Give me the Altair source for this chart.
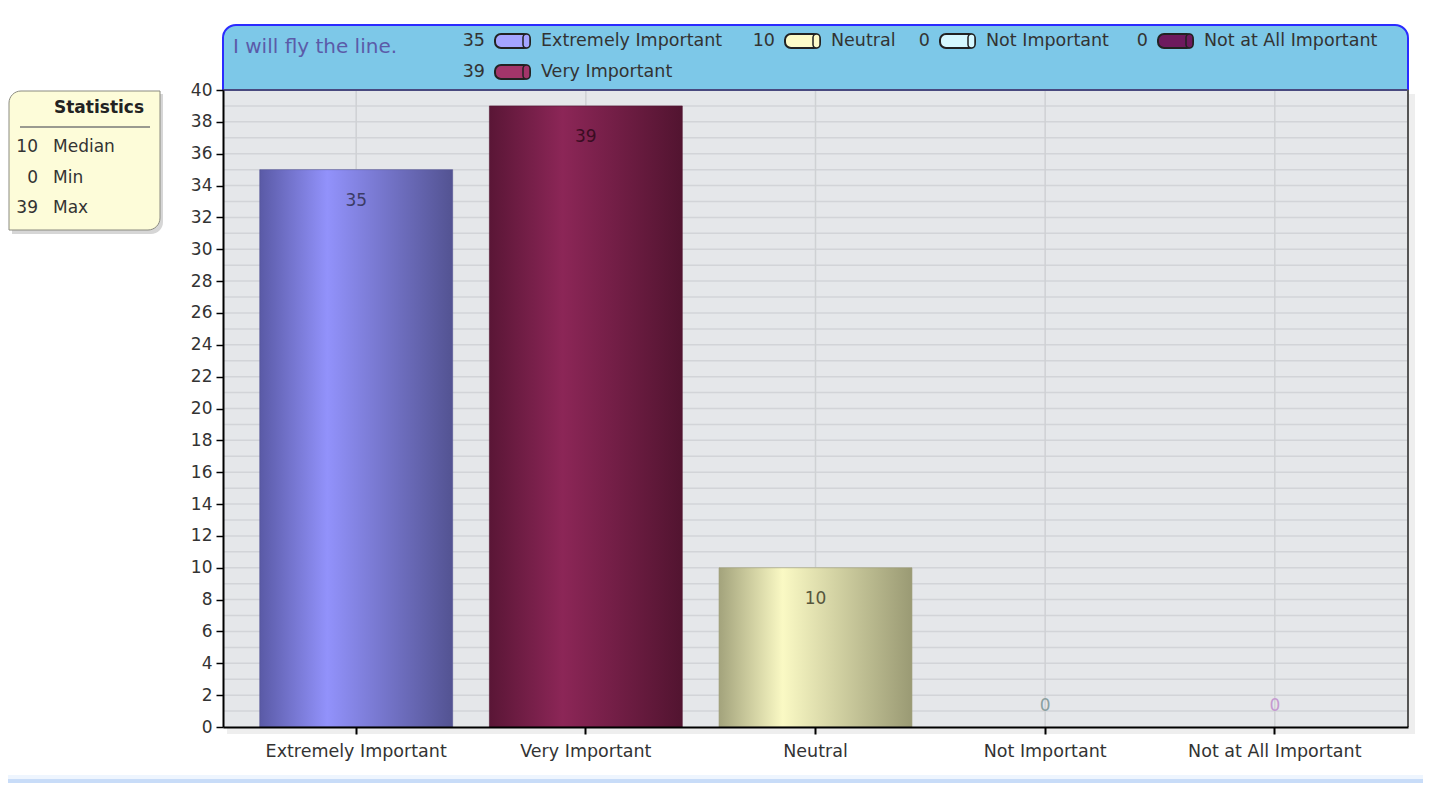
import altair as alt
import pandas as pd
import numpy as np

# ---------------- data ----------------
categories = ["Extremely Important", "Very Important", "Neutral", "Not Important", "Not at All Important"]
values = [35, 39, 10, 0, 0]
title_text = "I will fly the line."
stats_names = ["Median", "Min", "Max"]
stats_values = [int(np.median(values)), int(np.min(values)), int(np.max(values))]
y_ticks = list(range(0, 41, 2))
grid_minor = list(range(1, 41))

# ---------------- styles / layout ----------------
FONT = "DejaVu Sans"
W, H = 1185, 637
bar_stops = [
    [(0, "#5a5aa6"), (0.35, "#9292fb"), (1, "#535392")],
    [(0, "#5a1636"), (0.38, "#8c2657"), (1, "#521430")],
    [(0, "#a3a37c"), (0.33, "#faf9c4"), (1, "#9a9a74")],
    [(0, "#99aabb"), (0.35, "#ddffff"), (1, "#99aabb")],
    [(0, "#551122"), (0.35, "#881155"), (1, "#551122")],
]
label_colors = ["#3c3c66", "#3a0c22", "#56563c", "#8aa0a0", "#c59ad0"]
swatch_colors = ["#a4a4ff", "#a3356a", "#fdfbc8", "#d6f8ff", "#6e1a5e"]
# legend layout: right edge of value text, row y (pixels relative to plot)
leg_value_x = [262, 262, 552, 707, 925]
leg_row_y = [-49, -18, -49, -49, -49]
stats_row_y = [57, 88, 118]

df = pd.DataFrame({"cat": categories, "v": values, "lc": label_colors})
one = pd.DataFrame({"k": [0]})

x_scale = alt.Scale(domain=categories, paddingInner=0.16, paddingOuter=0.16)
y_scale = alt.Scale(domain=[0, 40], nice=False)
x_axis = alt.Axis(labelAngle=0, labelFont=FONT, labelFontSize=17.5, labelColor="#333",
                  labelLimit=0, tickColor="#000", tickSize=7, tickWidth=2, domainColor="#000",
                  domainWidth=2, labelPadding=8, grid=False, title=None, zindex=1)
y_axis = alt.Axis(values=y_ticks, labelFont=FONT, labelFontSize=17, labelColor="#333",
                  tickColor="#000", tickSize=7, tickWidth=1.5, domainColor="#000",
                  domainWidth=2, labelPadding=4, grid=False, title=None, zindex=1)

X = alt.X("cat:N", scale=x_scale, axis=x_axis, sort=categories, title=None)

layers = []

# background page strip at bottom
layers.append(alt.Chart(one).mark_rect(color="#eef5fe").encode(
    x=alt.value(-215), x2=alt.value(W + 15), y=alt.value(H + 48), y2=alt.value(H + 52)))
layers.append(alt.Chart(one).mark_rect(color="#c8dcf8").encode(
    x=alt.value(-215), x2=alt.value(W + 15), y=alt.value(H + 52), y2=alt.value(H + 56)))

# plot shadow + background
layers.append(alt.Chart(one).mark_rect(color="#eeeeee").encode(
    x=alt.value(4), x2=alt.value(W + 7), y=alt.value(4), y2=alt.value(H + 7)))
layers.append(alt.Chart(one).mark_rect(color="#e5e7ea").encode(
    x=alt.value(0), x2=alt.value(W), y=alt.value(0), y2=alt.value(H)))

# horizontal minor grid
layers.append(alt.Chart(pd.DataFrame({"g": grid_minor})).mark_rule(
    color="#d2d4d8", strokeWidth=1.5).encode(
    y=alt.Y("g:Q", scale=y_scale, axis=y_axis, title=None),
    x=alt.value(0), x2=alt.value(W)))

# vertical grid at category centres
layers.append(alt.Chart(df).mark_rule(color="#cfd1d4", strokeWidth=1.5).encode(
    x=X, y=alt.value(0), y2=alt.value(H)))

# bars with gradients
for i, c in enumerate(categories):
    grad = alt.Gradient(gradient="linear", x1=0, x2=1, y1=0, y2=0,
                        stops=[alt.GradientStop(offset=o, color=col) for o, col in bar_stops[i]])
    layers.append(alt.Chart(df).transform_filter((alt.datum.cat == c) & (alt.datum.v > 0)).mark_bar(
        color=grad, stroke=bar_stops[i][2][1], strokeWidth=1, strokeOpacity=0.6).encode(
        x=X, y=alt.Y("v:Q", scale=y_scale, axis=y_axis, title=None)))

# value labels
layers.append(alt.Chart(df).transform_filter(alt.datum.v > 0).mark_text(
    font=FONT, fontSize=17, dy=31, baseline="middle").encode(
    x=X, y=alt.Y("v:Q", scale=y_scale, axis=y_axis, title=None),
    text="v:Q", color=alt.Color("lc:N", scale=None)))
layers.append(alt.Chart(df).transform_filter(alt.datum.v == 0).mark_text(
    font=FONT, fontSize=17, dy=-21, baseline="middle").encode(
    x=X, y=alt.Y("v:Q", scale=y_scale, axis=y_axis, title=None),
    text="v:Q", color=alt.Color("lc:N", scale=None)))

# header band
layers.append(alt.Chart(one).mark_rect(fill="#7dc8e8", stroke="#2b2bff", strokeWidth=2,
                                       cornerRadiusTopLeft=13, cornerRadiusTopRight=13).encode(
    x=alt.value(0), x2=alt.value(W), y=alt.value(-65), y2=alt.value(0)))
# plot top & right borders
layers.append(alt.Chart(one).mark_rule(color="#555", strokeWidth=1.5).encode(
    x=alt.value(0), x2=alt.value(W), y=alt.value(0)))
layers.append(alt.Chart(one).mark_rule(color="#555", strokeWidth=2).encode(
    x=alt.value(W), y=alt.value(0), y2=alt.value(H)))

# title in header
layers.append(alt.Chart(one).mark_text(text=title_text, font=FONT, fontSize=20,
                                       color="#5b5ba8", align="left", baseline="middle").encode(
    x=alt.value(10), y=alt.value(-43)))

# custom legend
leg = pd.DataFrame({
    "cat": categories, "v": values, "sc": swatch_colors,
    "vx": leg_value_x, "ry": leg_row_y,
})
leg["sx"] = leg["vx"] + 10
leg["sx2"] = leg["vx"] + 45
leg["cx"] = leg["vx"] + 38
leg["lx"] = leg["vx"] + 56
leg["y1"] = leg["ry"] - 7
leg["y2"] = leg["ry"] + 7
leg["vs"] = leg["v"].astype(str)

layers.append(alt.Chart(leg).mark_text(font=FONT, fontSize=17.5, color="#333", align="right",
                                       baseline="middle").encode(
    x=alt.X("vx:Q", scale=None), y=alt.Y("ry:Q", scale=None), text="vs:N"))
layers.append(alt.Chart(leg).mark_rect(stroke="#222", strokeWidth=2, cornerRadius=6).encode(
    x=alt.X("sx:Q", scale=None), x2="sx2:Q", y=alt.Y("y1:Q", scale=None), y2="y2:Q",
    fill=alt.Fill("sc:N", scale=None)))
layers.append(alt.Chart(leg).mark_rect(stroke="#222", strokeWidth=1.5, cornerRadius=4).encode(
    x=alt.X("cx:Q", scale=None), x2="sx2:Q", y=alt.Y("y1:Q", scale=None), y2="y2:Q",
    fill=alt.Fill("sc:N", scale=None)))
layers.append(alt.Chart(leg).mark_text(font=FONT, fontSize=17.5, color="#333", align="left",
                                       baseline="middle").encode(
    x=alt.X("lx:Q", scale=None), y=alt.Y("ry:Q", scale=None), text="cat:N"))

# statistics box
layers.append(alt.Chart(one).mark_rect(color="#d6d6d6", cornerRadiusTopLeft=12,
                                       cornerRadiusBottomRight=12).encode(
    x=alt.value(-211), x2=alt.value(-60), y=alt.value(4), y2=alt.value(144)))
layers.append(alt.Chart(one).mark_rect(fill="#fdfcd9", stroke="#8a8a80", strokeWidth=1,
                                       cornerRadiusTopLeft=12, cornerRadiusBottomRight=12).encode(
    x=alt.value(-214), x2=alt.value(-63), y=alt.value(1), y2=alt.value(140)))
layers.append(alt.Chart(one).mark_text(text="Statistics", font=FONT, fontSize=17, fontWeight="bold",
                                       color="#222", align="center", baseline="middle").encode(
    x=alt.value(-124), y=alt.value(18)))
layers.append(alt.Chart(one).mark_rule(color="#9a9a90", strokeWidth=2).encode(
    x=alt.value(-203), x2=alt.value(-73), y=alt.value(37)))
stats = pd.DataFrame({"n": stats_names, "s": [str(s) for s in stats_values], "ry": stats_row_y})
layers.append(alt.Chart(stats).mark_text(font=FONT, fontSize=17, color="#333", align="right",
                                         baseline="middle").encode(
    x=alt.value(-185), y=alt.Y("ry:Q", scale=None), text="s:N"))
layers.append(alt.Chart(stats).mark_text(font=FONT, fontSize=17, color="#333", align="left",
                                         baseline="middle").encode(
    x=alt.value(-170), y=alt.Y("ry:Q", scale=None), text="n:N"))

chart = alt.layer(*layers).properties(
    width=W, height=H,
    padding={"left": 215, "top": 82, "right": 15, "bottom": 56},
    autosize=alt.AutoSizeParams(type="none"),
    background="white",
).configure_view(stroke=None)

chart.save("out.html", embed_options={"renderer": "svg", "actions": False})
